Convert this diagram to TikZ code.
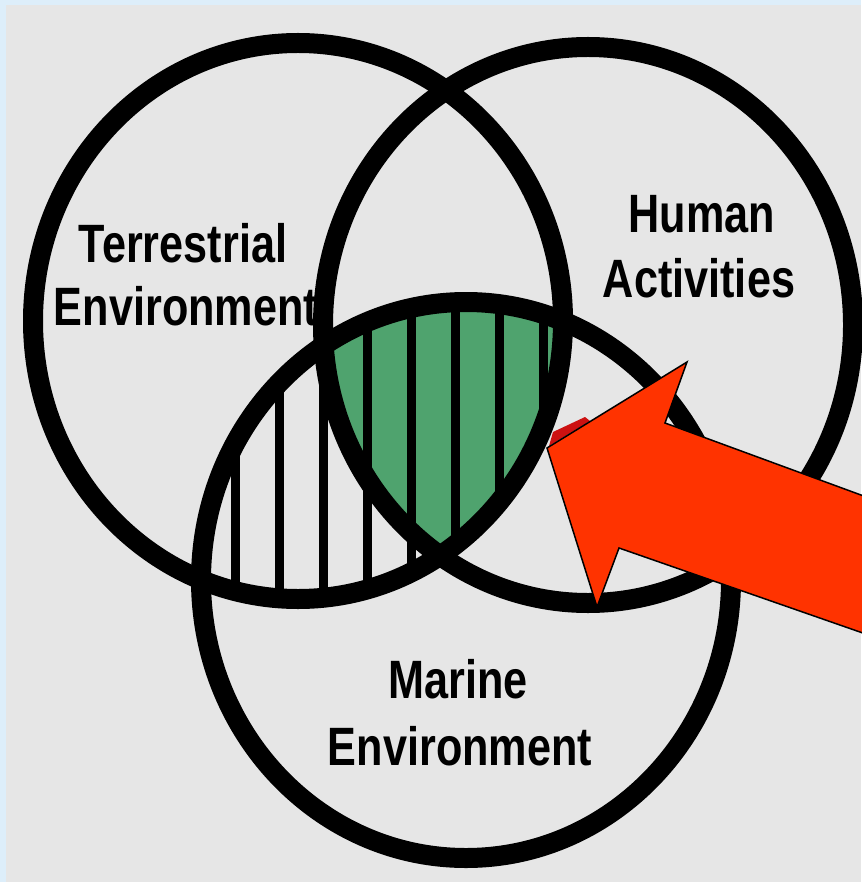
\documentclass[tikz,border=0pt]{standalone}
\usepackage{fontspec}
\newfontfamily\vennfont[FakeStretch=0.8]{Liberation Sans}
\definecolor{bgblue}{HTML}{DDEEFA}
\definecolor{bggray}{HTML}{E6E6E6}
\definecolor{overlapgreen}{HTML}{4FA36E}
\definecolor{arrowred}{HTML}{FF3300}
\definecolor{sliverred}{HTML}{CC1111}
\tikzset{
  vennsize/.style={x radius=265pt, y radius=278pt},
  ring/.style={draw=black, line width=20pt},
  hatch/.style={draw=black, line width=9pt},
  lbl/.style={font=\vennfont\bfseries\fontsize{54}{65}\selectfont, anchor=base, inner sep=0pt},
}
\begin{document}
\begin{tikzpicture}[x=1pt, y=-1pt]
    \useasboundingbox (0,0) rectangle (861,882);
    % Background
    \fill[bgblue] (0,0) rectangle (861,882);
    \fill[bggray] (6,5) rectangle (861,882);

    % Centres of the three sets
    \coordinate (terr) at (298,321);
    \coordinate (hum) at (588,325);
    \coordinate (mar) at (466,580);

    % Triple overlap in green
    \begin{scope}
        \clip (terr) ellipse [vennsize];
        \clip (hum) ellipse [vennsize];
        \fill[overlapgreen] (mar) ellipse [vennsize];
    \end{scope}

    % Hatching where terrestrial meets marine
    \begin{scope}
        \clip (terr) ellipse [vennsize];
        \clip (mar) ellipse [vennsize];
        \foreach \x in {235,279,...,543}
            \draw[hatch] (\x,280) -- (\x,620);
    \end{scope}

    % Three rings
    \draw[ring] (terr) ellipse [vennsize];
    \draw[ring] (hum) ellipse [vennsize];
    \draw[ring] (mar) ellipse [vennsize];

    % Labels
    \node[lbl] (terr1) at (183,262) {Terrestrial};
    \node[lbl] (terr2) at (186,325) {Environment};
    \node[lbl] (hum1) at (702,233) {Human};
    \node[lbl] (hum2) at (699,298) {Activities};
    \node[lbl] (mar1) at (458,698) {Marine};
    \node[lbl] (mar2) at (460,765) {Environment};

    % Pointer
    \fill[sliverred] (549,446) -- (590,421) -- (585,417) -- (553,432) -- cycle;
    \filldraw[fill=arrowred, draw=black, line width=1.5pt, line join=miter]
        (880,502) -- (665,423) -- (687,362) -- (547,448) -- (597,607) -- (619,548) -- (880,639) -- cycle;
\end{tikzpicture}
\end{document}
